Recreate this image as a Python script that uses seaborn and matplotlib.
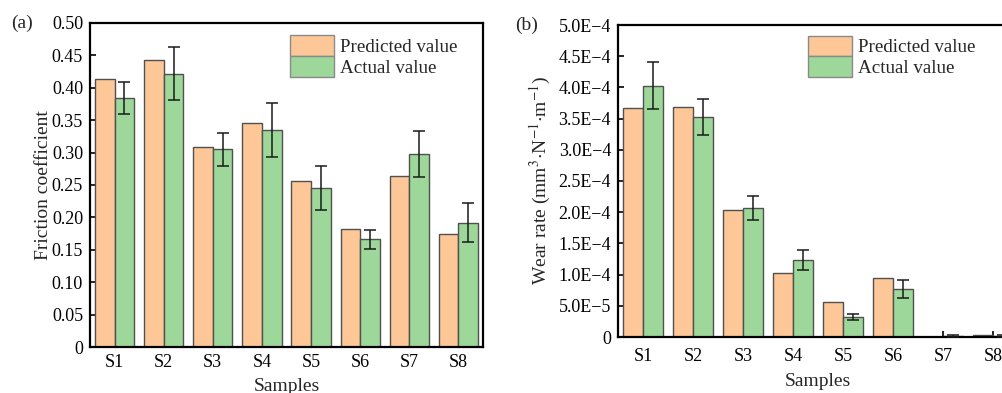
import numpy as np
import pandas as pd
import matplotlib
matplotlib.use("Agg")
import matplotlib.pyplot as plt
import seaborn as sns
from matplotlib.ticker import FuncFormatter, MultipleLocator

samples = ["S1", "S2", "S3", "S4", "S5", "S6", "S7", "S8"]
series_names = ["Predicted value", "Actual value"]

# Friction coefficient
friction_pred = [0.414, 0.443, 0.309, 0.345, 0.256, 0.182, 0.264, 0.174]
friction_act = [0.384, 0.422, 0.305, 0.335, 0.246, 0.166, 0.298, 0.192]
friction_err = [0.025, 0.041, 0.025, 0.042, 0.034, 0.015, 0.036, 0.030]

# Wear rate (mm^3 N^-1 m^-1)
wear_pred = [3.67e-4, 3.69e-4, 2.03e-4, 1.02e-4, 5.55e-5, 9.5e-5, 2e-7, 3.5e-6]
wear_act = [4.03e-4, 3.53e-4, 2.07e-4, 1.234e-4, 3.2e-5, 7.7e-5, 2.0e-6, 2.0e-6]
wear_err = [3.7e-5, 2.9e-5, 1.9e-5, 1.6e-5, 5.3e-6, 1.45e-5, 2.0e-6, 2.0e-6]

sns.set_theme(style="white")
plt.rcParams["font.family"] = ["Liberation Serif", "DejaVu Serif"]
plt.rcParams["mathtext.fontset"] = "stix"

colors = ["#FEC797", "#9DD89A"]


def long_frame(pred, act):
    return pd.DataFrame({
        "Sample": samples * 2,
        "Value": list(pred) + list(act),
        "Series": [series_names[0]] * len(samples) + [series_names[1]] * len(samples),
    })


def draw_panel(ax, pred, act, err, ylim, step, fmt, ylabel, tag, tag_x, leg_xy,
               xpad, xlabelpad, ylabelpad):
    df = long_frame(pred, act)
    sns.barplot(data=df, x="Sample", y="Value", hue="Series", hue_order=series_names,
                palette=colors, errorbar=None, width=0.8, ax=ax,
                edgecolor="#505050", linewidth=1.0, saturation=1)
    # error bars on the measured series, placed at the drawn bar centres
    bars = ax.containers[1]
    xs = [b.get_x() + b.get_width() / 2 for b in bars]
    ax.errorbar(xs, act, yerr=err, fmt="none", ecolor="#1a1a1a",
                elinewidth=1.1, capsize=4, capthick=1.1, zorder=5)
    ax.set_xlim(-0.5, 7.5)
    ax.set_ylim(*ylim)
    ax.yaxis.set_major_locator(MultipleLocator(step))
    ax.yaxis.set_major_formatter(FuncFormatter(fmt))
    ax.tick_params(axis="both", direction="in", length=4, width=1.2,
                   labelsize=13, colors="black", pad=5)
    ax.tick_params(axis="y", left=True, right=False)
    ax.tick_params(axis="x", bottom=True, top=False, pad=xpad)
    for s in ax.spines.values():
        s.set_linewidth(1.6)
        s.set_color("black")
    ax.set_xlabel("Samples", fontsize=14, labelpad=xlabelpad)
    ax.set_ylabel(ylabel, fontsize=14, labelpad=ylabelpad)
    leg = ax.legend(loc="upper left", bbox_to_anchor=leg_xy, frameon=False,
                    fontsize=13.7, handlelength=2.3, handleheight=1.3,
                    labelspacing=0.0, handletextpad=0.35, borderaxespad=0.0,
                    borderpad=0.0)
    for h in leg.legend_handles:
        h.set_edgecolor("#8a8a8a")
    ax.text(tag_x, 1.0, tag, transform=ax.transAxes, fontsize=14,
            ha="right", va="center")


def friction_fmt(v, _):
    return "0" if abs(v) < 1e-12 else f"{v:.2f}"


def wear_fmt(v, _):
    if abs(v) < 1e-15:
        return "0"
    exp = int(np.floor(np.log10(abs(v)) + 1e-9))
    mant = v / 10 ** exp
    return f"{mant:.1f}E\u2212{-exp}"


fig = plt.figure(figsize=(10.03, 3.93), dpi=100)
W, H = 1003, 393
ax1 = fig.add_axes([90 / W, 1 - 347 / H, 393 / W, 324 / H])
ax2 = fig.add_axes([618 / W, 1 - 337 / H, 400 / W, 312 / H])

draw_panel(ax1, friction_pred, friction_act, friction_err, (0, 0.5), 0.05,
           friction_fmt, "Friction coefficient", "(a)", -0.145, (0.509, 0.962),
           5, 5, 0)
draw_panel(ax2, wear_pred, wear_act, wear_err, (0, 5e-4), 5e-5,
           wear_fmt, r"Wear rate (mm$^{3}$$\cdot$N$^{-1}$$\cdot$m$^{-1}$)", "(b)",
           -0.2, (0.475, 0.966), 8, 6, 4)

fig.savefig("out.png", dpi=100)
